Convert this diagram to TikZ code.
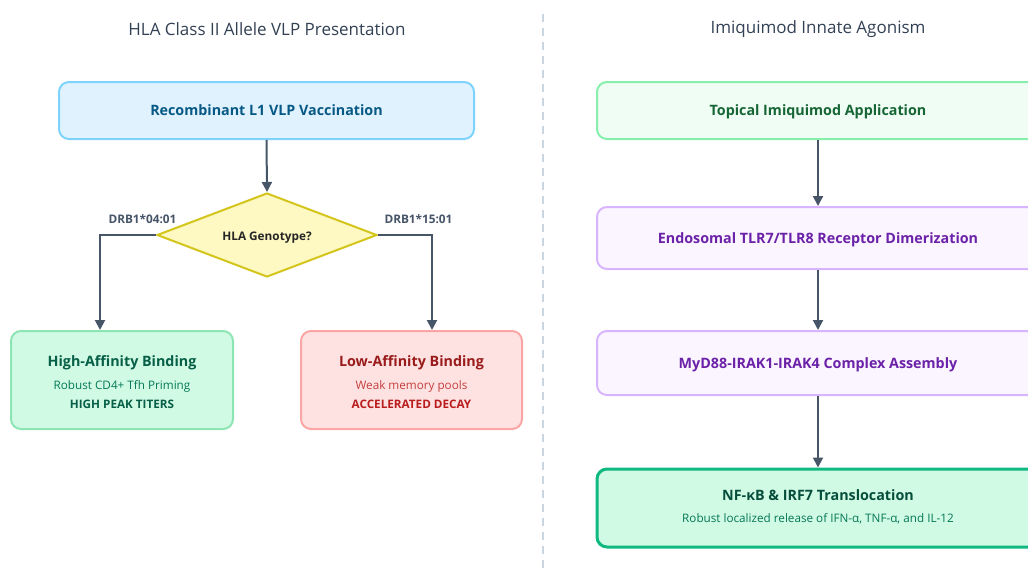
\documentclass[tikz,border=0pt]{standalone}
\usepackage{fontspec}
\setmainfont{Open Sans}
\usetikzlibrary{arrows.meta,shapes.geometric}

\definecolor{slatearrow}{HTML}{475569}
\definecolor{titlegray}{HTML}{334155}
\definecolor{divider}{HTML}{CBD5E1}
\definecolor{skyfill}{HTML}{E0F2FE}
\definecolor{skydraw}{HTML}{7DD3FC}
\definecolor{skytext}{HTML}{075985}
\definecolor{yelfill}{HTML}{FEF9C3}
\definecolor{yeldraw}{HTML}{D4C51C}
\definecolor{hifill}{HTML}{D1FAE5}
\definecolor{hidraw}{HTML}{8BE6B4}
\definecolor{hitext}{HTML}{065F46}
\definecolor{hisub}{HTML}{047857}
\definecolor{lofill}{HTML}{FEE2E2}
\definecolor{lodraw}{HTML}{FCA5A5}
\definecolor{lotext}{HTML}{991B1B}
\definecolor{losub}{HTML}{B91C1C}
\definecolor{topfill}{HTML}{F0FDF4}
\definecolor{topdraw}{HTML}{86EFAC}
\definecolor{toptext}{HTML}{166534}
\definecolor{purfill}{HTML}{FAF5FF}
\definecolor{purdraw}{HTML}{D8B4FE}
\definecolor{purtext}{HTML}{6B21A8}
\definecolor{endfill}{HTML}{D1FAE5}
\definecolor{enddraw}{HTML}{10B981}
\definecolor{endtext}{HTML}{064E3B}

\tikzset{
  box/.style={draw, rounded corners=10pt, line width=2pt, inner sep=0pt},
  flow/.style={draw=slatearrow, line width=2pt,
    -{Triangle[length=10pt,width=10pt]}},
  paneltitle/.style={font=\fontsize{17}{20}\selectfont, text=titlegray},
  % fixed text height/depth so capitals sit on the node centre
  boxlabel/.style={font=\fontsize{14.3}{17}\selectfont\bfseries,
    text height=11pt, text depth=1pt},
  sublabel/.style={font=\fontsize{11.7}{14}\selectfont,
    text height=9.4pt, text depth=1pt},
  subbold/.style={font=\fontsize{11.7}{14}\selectfont\bfseries,
    text height=9.4pt, text depth=1pt},
  branchlabel/.style={font=\fontsize{11.8}{14}\selectfont\bfseries, text=slatearrow,
    text height=9.5pt, text depth=1pt},
}

\begin{document}
\begin{tikzpicture}[x=1pt,y=-1pt]
\clip (0,0) rectangle (1028,571);
\fill[white] (0,0) rectangle (1028,571);

% panel divider
\coordinate (divtop) at (542.5,14);
\coordinate (divbot) at (542.5,571);
\draw[divider, line width=2pt, dash pattern=on 8pt off 6pt] (divtop) -- (divbot);

% left panel
\node[paneltitle] (ltitle) at (267,29) {HLA Class II Allele VLP Presentation};

\node[box, fill=skyfill, draw=skydraw, minimum width=415pt, minimum height=57pt,
      text=skytext, boxlabel] (vacc) at (266.5,110.5) {Recombinant L1 VLP Vaccination};

% decision diamond (fixed size), label set on top of it
\node[diamond, draw=yeldraw, fill=yelfill, line width=2pt, inner sep=0pt,
      minimum width=220pt, minimum height=84pt] (geno) at (267,235) {};
\node[branchlabel, text=black!85] (genoT) at (267,236) {HLA Genotype?};

\node[box, fill=hifill, draw=hidraw, minimum width=222pt, minimum height=98pt] (hi) at (122,380) {};
\node[boxlabel, text=hitext] (hiT) at (122,361) {High-Affinity Binding};
\node[sublabel, text=hisub] (hiS) at (122,385) {Robust CD4+ Tfh Priming};
\node[subbold, text=hitext] (hiB) at (122,404) {HIGH PEAK TITERS};

\node[box, fill=lofill, draw=lodraw, minimum width=221pt, minimum height=98pt] (lo) at (411.5,380) {};
\node[boxlabel, text=lotext] (loT) at (411.5,361) {Low-Affinity Binding};
\node[sublabel, text=losub!85] (loS) at (411.5,385) {Weak memory pools};
\node[subbold, text=losub] (loB) at (411.5,404) {ACCELERATED DECAY};

\draw[flow] (vacc.south) -- (geno.north);
\draw[flow] (geno.west) -| ([xshift=-22pt]hi.north);
\draw[flow] (geno.east) -| ([xshift=20.5pt]lo.north);
\node[branchlabel] (lblA) at (142.5,219) {DRB1*04:01};
\node[branchlabel] (lblB) at (418.5,219) {DRB1*15:01};

% right panel
\node[paneltitle] (rtitle) at (818,29) {Imiquimod Innate Agonism};

\node[box, fill=topfill, draw=topdraw, minimum width=442pt, minimum height=57pt,
      text=toptext, boxlabel] (imq) at (818,110.5) {Topical Imiquimod Application};
\node[box, fill=purfill, draw=purdraw, minimum width=442pt, minimum height=62pt,
      text=purtext, boxlabel] (tlr) at (818,238) {Endosomal TLR7/TLR8 Receptor Dimerization};
\node[box, fill=purfill, draw=purdraw, minimum width=442pt, minimum height=64pt,
      text=purtext, boxlabel] (myd) at (818,363) {MyD88-IRAK1-IRAK4 Complex Assembly};
\node[box, fill=endfill, draw=enddraw, line width=3pt, minimum width=442pt, minimum height=78pt] (nfkb) at (818,508) {};
\node[boxlabel, text=endtext] (nfT) at (818,495) {NF-κB \& IRF7 Translocation};
\node[sublabel, text=hisub] (nfS) at (818,518) {Robust localized release of IFN-α, TNF-α, and IL-12};

\draw[flow] (imq.south) -- (tlr.north);
\draw[flow] (tlr.south) -- (myd.north);
\draw[flow] (myd.south) -- (nfkb.north);
\end{tikzpicture}
\end{document}
